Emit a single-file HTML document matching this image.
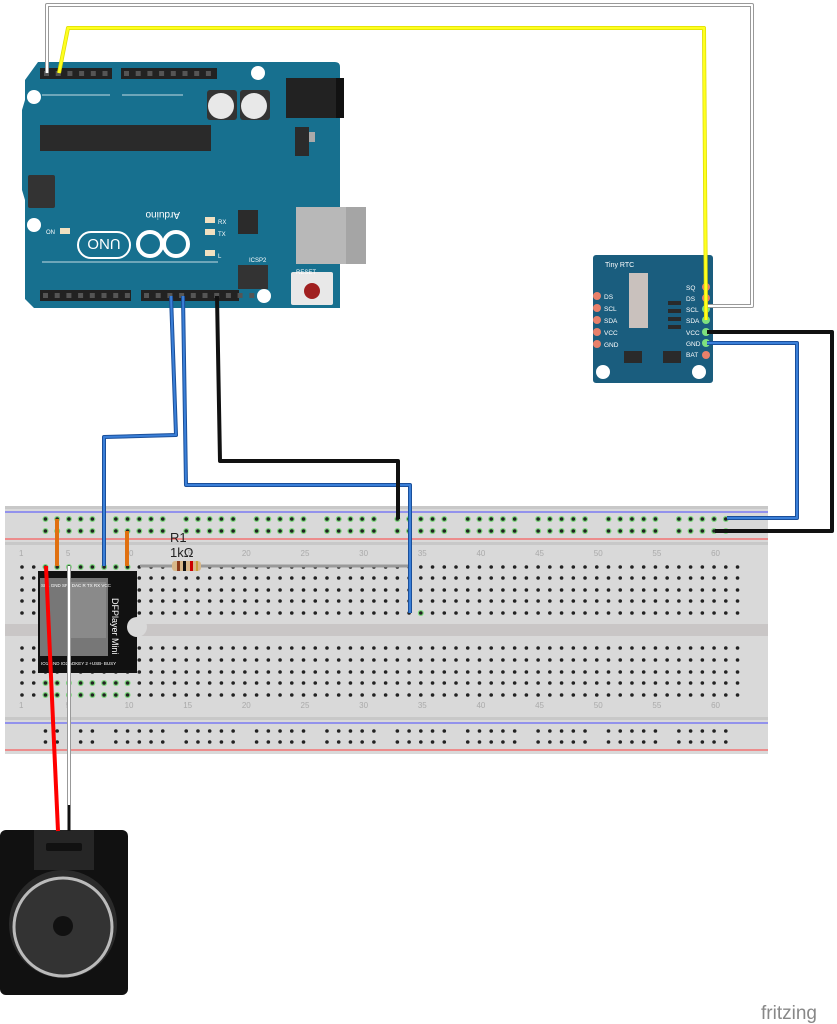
<!DOCTYPE html>
<html><head><meta charset="utf-8"><style>
html,body{margin:0;padding:0;background:#fff;width:837px;height:1024px;overflow:hidden}
svg{display:block}
text{font-family:"Liberation Sans",sans-serif}
</style></head><body>
<svg id="s" width="837" height="1024" viewBox="0 0 837 1024" xmlns="http://www.w3.org/2000/svg">
<rect x="5" y="506" width="763" height="248" fill="#d9d9d9"/>
<rect x="5" y="506" width="763" height="3" fill="#c8c8c8"/>
<line x1="5" y1="512" x2="768" y2="512" stroke="#4a4aff" stroke-width="1"/>
<line x1="5" y1="539" x2="768" y2="539" stroke="#ff4040" stroke-width="1"/>
<rect x="5" y="542" width="763" height="3" fill="#c8c8c8"/>
<rect x="5" y="624" width="763" height="12" fill="#c9c6c6"/>
<rect x="5" y="717" width="763" height="3" fill="#c8c8c8"/>
<line x1="5" y1="723" x2="768" y2="723" stroke="#4a4aff" stroke-width="1"/>
<line x1="5" y1="750" x2="768" y2="750" stroke="#ff4040" stroke-width="1"/>
<g id="holes"></g>
<g id="nums" fill="#aaa" font-size="8"></g>

<path d="M38 62 L335 62 Q340 62 340 67 L340 308 L34 308 L25 299 L25 200 L22 190 L22 110 L25 100 L25 80 Z" fill="#17708f"/>
<circle cx="258" cy="73" r="7" fill="#fff"/>
<circle cx="34" cy="97" r="7" fill="#fff"/>
<circle cx="34" cy="225" r="7" fill="#fff"/>
<circle cx="264" cy="296" r="7" fill="#fff"/>
<rect x="40" y="68" width="72" height="11" fill="#222"/>
<rect x="121" y="68" width="96" height="11" fill="#222"/>
<rect x="40" y="290" width="91" height="11" fill="#222"/>
<rect x="141" y="290" width="98" height="11" fill="#222"/>
<g fill="#555" id="hp"></g>
<rect x="40" y="125" width="171" height="26" fill="#2a2a2a"/>
<rect x="286" y="78" width="52" height="40" fill="#222"/>
<rect x="336" y="78" width="8" height="40" fill="#111"/>
<rect x="207" y="90" width="30" height="30" fill="#333" rx="3"/>
<circle cx="221" cy="106" r="13" fill="#e8e8e8"/>
<rect x="240" y="90" width="30" height="30" fill="#333" rx="3"/>
<circle cx="254" cy="106" r="13" fill="#e8e8e8"/>
<rect x="295" y="127" width="14" height="29" fill="#2b2b2b"/>
<rect x="309" y="132" width="6" height="10" fill="#aaa"/>
<rect x="238" y="210" width="20" height="24" fill="#2b2b2b"/>
<rect x="296" y="207" width="70" height="57" fill="#b8b8b8"/>
<rect x="346" y="207" width="20" height="57" fill="#a5a5a5"/>
<rect x="291" y="272" width="42" height="33" fill="#e8e8e8" rx="2"/>
<circle cx="312" cy="291" r="8" fill="#a02020"/>
<rect x="28" y="175" width="27" height="33" fill="#333" rx="2"/>
<rect x="238" y="265" width="30" height="24" fill="#333"/>
<rect x="60" y="228" width="10" height="6" fill="#f0e0c0"/>
<rect x="205" y="217" width="10" height="6" fill="#f0e0c0"/>
<rect x="205" y="229" width="10" height="6" fill="#f0e0c0"/>
<rect x="205" y="250" width="10" height="6" fill="#f0e0c0"/>
<g fill="none" stroke="#fff" stroke-width="4">
<rect x="78" y="232" width="52" height="26" rx="13" stroke-width="2"/>
<circle cx="150" cy="244" r="12"/><circle cx="176" cy="244" r="12"/>
</g>
<text x="104" y="251" font-size="15" fill="#fff" text-anchor="middle" transform="rotate(180 104 245)">UNO</text>
<text x="140" y="218" font-size="10" fill="#fff" transform="rotate(180 160 215)">Arduino</text>
<g font-size="6" fill="#fff">
<text x="218" y="224">RX</text><text x="218" y="236">TX</text><text x="218" y="258">L</text>
<text x="46" y="234">ON</text><text x="296" y="274">RESET</text>
<text x="249" y="262">ICSP2</text>
</g>
<line x1="42" y1="95" x2="110" y2="95" stroke="#fff" stroke-width="0.8"/>
<line x1="122" y1="95" x2="183" y2="95" stroke="#fff" stroke-width="0.8"/>
<line x1="42" y1="262" x2="218" y2="262" stroke="#fff" stroke-width="0.8"/>

<rect x="593" y="255" width="120" height="128" rx="3" fill="#1a5d7e"/>
<circle cx="603" cy="372" r="7" fill="#fff"/>
<circle cx="699" cy="372" r="7" fill="#fff"/>
<rect x="629" y="273" width="19" height="55" fill="#c9c1bd"/>
<rect x="624" y="351" width="18" height="12" fill="#2a2a2a"/>
<rect x="663" y="351" width="18" height="12" fill="#2a2a2a"/>
<g fill="#2a2a2a"><rect x="668" y="301" width="13" height="4"/><rect x="668" y="309" width="13" height="4"/><rect x="668" y="317" width="13" height="4"/><rect x="668" y="325" width="13" height="4"/></g>
<text x="605" y="267" font-size="7" fill="#fff" font-family="Liberation Mono">Tiny RTC</text>
<g font-size="6.5" fill="#fff">
<text x="604" y="299">DS</text><text x="604" y="311">SCL</text><text x="604" y="323">SDA</text><text x="604" y="335">VCC</text><text x="604" y="347">GND</text>
<text x="686" y="290">SQ</text><text x="686" y="301">DS</text><text x="686" y="312">SCL</text><text x="686" y="323">SDA</text><text x="686" y="335">VCC</text><text x="686" y="346">GND</text><text x="686" y="357">BAT</text>
</g>
<g fill="#e8806a"><circle cx="597" cy="296" r="4"/><circle cx="597" cy="308" r="4"/><circle cx="597" cy="320" r="4"/><circle cx="597" cy="332" r="4"/><circle cx="597" cy="344" r="4"/>
<circle cx="706" cy="287" r="4"/><circle cx="706" cy="298" r="4"/><circle cx="706" cy="355" r="4"/></g>
<g fill="#7ee07e"><circle cx="706" cy="309" r="4"/><circle cx="706" cy="320" r="4"/><circle cx="706" cy="332" r="4"/><circle cx="706" cy="343" r="4"/></g>

<rect x="38" y="571" width="99" height="102" fill="#111"/>
<rect x="40" y="578" width="68" height="78" fill="#777"/>
<rect x="68" y="582" width="38" height="56" fill="#8a8a8a"/>
<circle cx="137" cy="627" r="10" fill="#d9d9d9"/>
<text x="112" y="598" font-size="9" fill="#fff" transform="rotate(90 112 598)">DFPlayer Mini</text>
<g font-size="4.5" fill="#fff"><text x="41" y="587">SP1 GND SP2 DAC R  TX   RX  VCC</text><text x="41" y="665">IO1 GND IO2 ADKEY 2 +USB- BUSY</text></g>

<line x1="140" y1="566" x2="408" y2="566" stroke="#999" stroke-width="3"/>
<rect x="172" y="561" width="29" height="10" rx="3" fill="#d8b88a"/>
<rect x="177" y="561" width="3" height="10" fill="#8b3a1a"/><rect x="183" y="561" width="3" height="10" fill="#111"/><rect x="190" y="561" width="3" height="10" fill="#c00"/><rect x="196" y="561" width="2" height="10" fill="#c8a040"/>
<text x="170" y="542" font-size="13" fill="#222">R1</text>
<text x="170" y="557" font-size="13" fill="#222">1kΩ</text>

<rect x="0" y="830" width="128" height="165" rx="6" fill="#111"/>
<rect x="34" y="830" width="60" height="40" fill="#262626"/>
<rect x="46" y="843" width="36" height="8" rx="2" fill="#111"/>
<circle cx="63" cy="924" r="54" fill="#2a2a2a"/>
<circle cx="63" cy="927" r="49" fill="#333" stroke="#bbb" stroke-width="3"/>
<circle cx="63" cy="926" r="10" fill="#111"/>

<g fill="none" stroke-linejoin="round">
<polyline points="47,73 47,5 752,5 752,306 707,306" stroke="#999" stroke-width="4"/>
<polyline points="47,73 47,5 752,5 752,306 707,306" stroke="#fff" stroke-width="2"/>
<polyline points="59,73 68,28 704,28 706,320" stroke="#dcdc00" stroke-width="4"/>
<polyline points="59,73 68,28 704,28 706,320" stroke="#ffff20" stroke-width="2.5"/>
<polyline points="171,296 176,435 104,437 104,566" stroke="#1a4f9a" stroke-width="4"/>
<polyline points="171,296 176,435 104,437 104,566" stroke="#3a7fd8" stroke-width="2"/>
<polyline points="183,296 186,485 410,485 410,613" stroke="#1a4f9a" stroke-width="4"/>
<polyline points="183,296 186,485 410,485 410,613" stroke="#3a7fd8" stroke-width="2"/>
<polyline points="217,296 220,461 398,461 398,519" stroke="#111" stroke-width="4"/>
<polyline points="707,332 832,332 832,531 715,531" stroke="#111" stroke-width="4"/>
<polyline points="707,343 797,343 797,518 727,518" stroke="#1a4f9a" stroke-width="4"/>
<polyline points="707,343 797,343 797,518 727,518" stroke="#3a7fd8" stroke-width="2"/>
<line x1="57" y1="519" x2="57" y2="566" stroke="#e07010" stroke-width="4"/>
<line x1="127" y1="531" x2="127" y2="566" stroke="#e07010" stroke-width="4"/>
<line x1="46" y1="566" x2="58" y2="831" stroke="#ff0000" stroke-width="4"/>
<line x1="69" y1="566" x2="69" y2="805" stroke="#999" stroke-width="4"/>
<line x1="69" y1="566" x2="69" y2="805" stroke="#fff" stroke-width="2"/>
<line x1="69" y1="805" x2="69" y2="831" stroke="#111" stroke-width="3"/>
</g>
<text x="761" y="1019" font-size="19" fill="#888" font-family="DejaVu Sans">fritzing</text>
</svg>
<script>
var ns="http://www.w3.org/2000/svg",H=document.getElementById('holes'),N=document.getElementById('nums');
function c(x,y,col,r){var e=document.createElementNS(ns,'circle');e.setAttribute('cx',x);e.setAttribute('cy',y);e.setAttribute('r',r||1.8);e.setAttribute('fill',col);H.appendChild(e);}
function X(i){return 22+(i-1)*11.73;}
var rows=[567,578,590,601,613,648,660,672,683,695];
for(var i=1;i<=62;i++){for(var r=0;r<10;r++){var g=false;
 if(i>=3&&i<=10&&(r==0||r>=8))g=true;
 if(i==35&&r==4)g=true;
 if(g)c(X(i),rows[r],'#7ed87e',3);c(X(i),rows[r],'#222');}}
for(var i=3;i<=61;i++){if((i-3)%6==5)continue;
 [519,531].forEach(function(y){c(X(i),y,'#7ed87e',3);c(X(i),y,'#222');});
 [731,742].forEach(function(y){c(X(i),y,'#222');});}
[1,5,10,15,20,25,30,35,40,45,50,55,60].forEach(function(n){[556,708].forEach(function(y){var t=document.createElementNS(ns,'text');t.setAttribute('x',X(n)-3);t.setAttribute('y',y);t.textContent=n;N.appendChild(t);});});
var hp=document.getElementById('hp');
function sq(x,y){var e=document.createElementNS(ns,'rect');e.setAttribute('x',x);e.setAttribute('y',y);e.setAttribute('width',5);e.setAttribute('height',5);e.setAttribute('fill','#555');hp.appendChild(e);}
for(var k=0;k<6;k++)sq(44+k*11.7,71);for(var k=0;k<8;k++)sq(124+k*11.7,71);
for(var k=0;k<8;k++)sq(43+k*11.7,293);for(var k=0;k<10;k++)sq(144+k*11.7,293);
</script>
</body></html>
